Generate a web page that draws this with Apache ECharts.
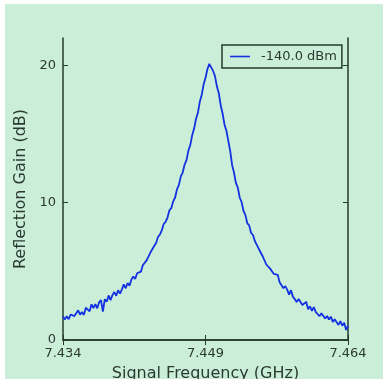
<!DOCTYPE html>
<html><head><meta charset="utf-8">
<script src="https://cdn.jsdelivr.net/npm/echarts@6/dist/echarts.min.js"></script>
<style>
html,body{margin:0;padding:0;background:#ffffff;}
#c{position:absolute;left:5px;top:4px;width:378px;height:375px;background:#cbeed9;}
</style></head>
<body><div id="c"></div>
<script>
var seriesName = '-140.0 dBm';
var xTicks = [7.434, 7.449, 7.464];
var yTicks = [0, 10, 20];
var freqGHz = [
7.4340,7.4342,7.4344,7.4346,7.4348,7.4350,7.4352,7.4354,7.4356,7.4358,
7.4360,7.4362,7.4364,7.4366,7.4368,7.4370,7.4372,7.4374,7.4376,7.4378,
7.4380,7.4382,7.4384,7.4386,7.4388,7.4390,7.4392,7.4394,7.4396,7.4398,
7.4400,7.4402,7.4404,7.4406,7.4408,7.4410,7.4412,7.4414,7.4416,7.4418,
7.4420,7.4422,7.4424,7.4426,7.4428,7.4430,7.4432,7.4434,7.4436,7.4438,
7.4440,7.4442,7.4444,7.4446,7.4448,7.4450,7.4452,7.4454,7.4456,7.4458,
7.4460,7.4462,7.4464,7.4466,7.4468,7.4470,7.4472,7.4474,7.4476,7.4478,
7.4480,7.4482,7.4484,7.4486,7.4488,7.4490,7.4492,7.4494,7.4496,7.4498,
7.4500,7.4502,7.4504,7.4506,7.4508,7.4510,7.4512,7.4514,7.4516,7.4518,
7.4520,7.4522,7.4524,7.4526,7.4528,7.4530,7.4532,7.4534,7.4536,7.4538,
7.4540,7.4542,7.4544,7.4546,7.4548,7.4550,7.4552,7.4554,7.4556,7.4558,
7.4560,7.4562,7.4564,7.4566,7.4568,7.4570,7.4572,7.4574,7.4576,7.4578,
7.4580,7.4582,7.4584,7.4586,7.4588,7.4590,7.4592,7.4594,7.4596,7.4598,
7.4600,7.4602,7.4604,7.4606,7.4608,7.4610,7.4612,7.4614,7.4616,7.4618,
7.4620,7.4622,7.4624,7.4626,7.4628,7.4630,7.4632,7.4634,7.4636,7.4638,
7.4640
];
var gainDB = [
1.72,1.50,1.73,1.52,1.86,2.00,1.74,1.83,2.16,1.85,
2.03,1.83,2.35,2.27,2.09,2.60,2.33,2.62,2.31,2.74,
2.90,2.06,2.97,2.78,3.25,2.90,3.27,3.49,3.22,3.62,
3.38,3.69,4.05,3.77,4.15,3.95,4.40,4.63,4.45,4.86,
4.97,4.98,5.44,5.40,5.80,5.85,6.37,6.40,6.85,7.07,
7.50,7.68,7.98,8.45,8.60,8.92,9.45,9.60,10.10,10.38,
10.98,11.30,11.92,12.20,12.78,13.10,13.80,14.20,14.92,15.40,
16.10,16.55,17.35,17.85,18.62,19.10,19.72,20.12,19.98,19.60,
19.22,18.48,17.98,17.10,16.50,15.70,15.25,14.50,13.78,12.75,
12.20,11.45,11.10,10.38,10.05,9.40,9.10,8.50,8.35,7.80,
7.65,7.20,7.12,6.65,6.58,6.12,6.00,5.50,5.58,5.20,
5.24,4.81,4.79,4.75,4.21,4.27,3.77,3.93,3.67,3.30,
3.63,3.16,3.29,2.77,2.99,2.99,2.55,2.67,2.78,2.24,
2.46,2.12,2.39,2.05,2.17,1.73,1.94,1.95,1.56,1.75,
1.49,1.70,1.31,1.52,1.43,1.10,1.37,1.04,1.26,0.73,
1.05
];
var pts = freqGHz.map(function(f,i){return [f, gainDB[i]];});
var frame = '#233a2c';
var txt = '#2b3a31';
var chart = echarts.init(document.getElementById('c'), null, {renderer:'canvas'});
chart.setOption({
  animation:false,
  backgroundColor:'#cbeed9',
  grid:{left:58, right:35, top:34, bottom:39, show:false, containLabel:false, outerBoundsMode:'none'},
  legend:{
    show:true, data:[seriesName], left:217, top:41,
    icon:'rect', orient:'horizontal', borderColor:frame, borderWidth:1.5,
    padding:[5,5,5,8], itemWidth:20, itemHeight:1.6, itemGap:10,
    textStyle:{color:txt, fontSize:13, fontFamily:'DejaVu Sans', padding:[0,0,0,6]},
    backgroundColor:'#cbeed9'
  },
  xAxis:[{
    type:'value', min:7.434, max:7.464, position:'bottom',
    name:'Signal Frequency (GHz)', nameLocation:'middle', nameGap:26,
    nameTextStyle:{color:txt, fontSize:16, fontFamily:'DejaVu Sans'},
    axisLine:{show:true, lineStyle:{color:frame, width:1.5}},
    axisTick:{show:true, inside:true, length:5, customValues:xTicks, lineStyle:{color:frame}},
    axisLabel:{show:true, customValues:xTicks, color:txt, fontSize:13, fontFamily:'DejaVu Sans', margin:7,
      formatter:function(v){return v.toFixed(3);}},
    splitLine:{show:false}
  },{
    type:'value', min:7.434, max:7.464, position:'top',
    axisLine:{show:true, lineStyle:{color:frame, width:1.5}},
    axisTick:{show:true, inside:true, length:5, customValues:xTicks, lineStyle:{color:frame}},
    axisLabel:{show:false}, splitLine:{show:false}
  }],
  yAxis:[{
    type:'value', min:0, max:22, interval:10, position:'left',
    name:'Reflection Gain (dB)', nameLocation:'middle', nameGap:29, nameRotate:90,
    nameTextStyle:{color:txt, fontSize:16, fontFamily:'DejaVu Sans'},
    axisLine:{show:true, lineStyle:{color:frame, width:1.5}},
    axisTick:{show:true, inside:true, length:5, customValues:yTicks, lineStyle:{color:frame}},
    axisLabel:{show:true, customValues:yTicks, color:txt, fontSize:13, fontFamily:'DejaVu Sans', margin:7,
      verticalAlignMinLabel:'middle', verticalAlign:'middle'},
    splitLine:{show:false}
  },{
    type:'value', min:0, max:22, interval:10, position:'right',
    axisLine:{show:true, lineStyle:{color:frame, width:1.5}},
    axisTick:{show:true, inside:true, length:5, customValues:yTicks, lineStyle:{color:frame}},
    axisLabel:{show:false}, splitLine:{show:false}
  }],
  series:[{
    name:seriesName, type:'line', data:pts, xAxisIndex:0, yAxisIndex:0,
    symbol:'none', showSymbol:false,
    lineStyle:{color:'#1432e0', width:1.8},
    itemStyle:{color:'#1432e0'}
  }]
});
</script></body></html>
